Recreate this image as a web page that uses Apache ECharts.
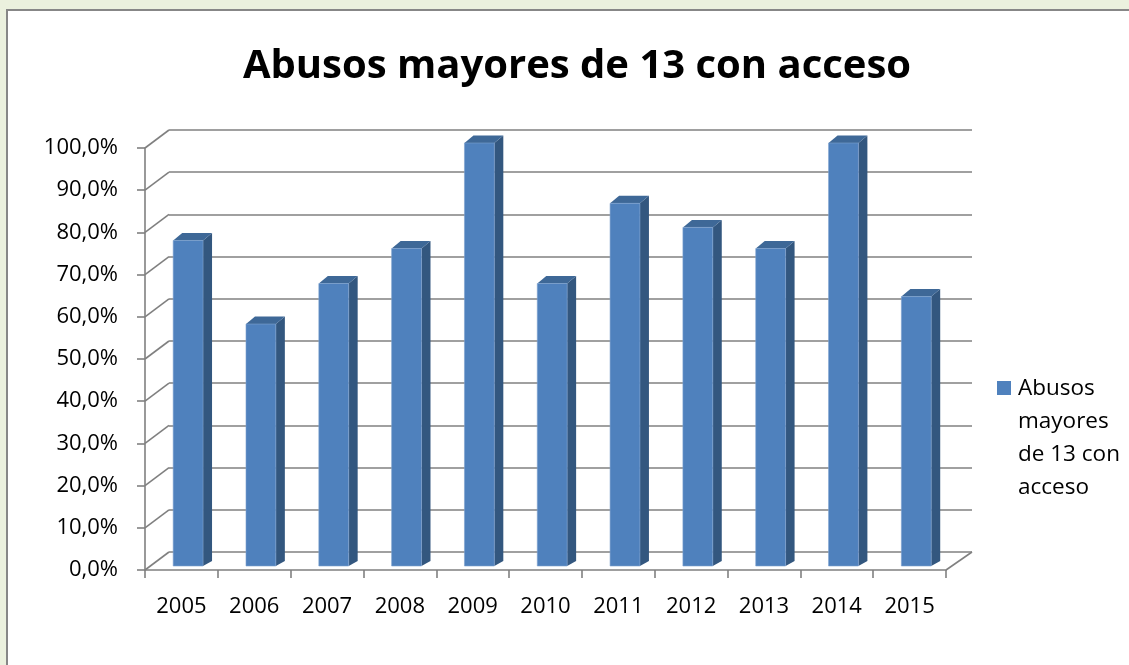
<!DOCTYPE html>
<html>
<head>
<meta charset="utf-8">
<script src="https://cdn.jsdelivr.net/npm/echarts@6/dist/echarts.min.js"></script>
<style>
  html, body { margin: 0; padding: 0; width: 1129px; height: 665px; overflow: hidden; background: #ebf1de; }
  #frame { position: absolute; left: 6px; top: 9px; width: 1200px; height: 700px; border: 2px solid #878787; background: #ffffff; }
  #chart { position: absolute; left: 0; top: 0; width: 1129px; height: 665px; }
</style>
</head>
<body>
<div id="frame"></div>
<div id="chart"></div>
<script>
// ---- data ----
const chartTitle = 'Abusos mayores de 13 con acceso';
const seriesName = 'Abusos mayores de 13 con acceso';
const legendLabel = 'Abusos\nmayores\nde 13 con\nacceso';
const categories = ['2005', '2006', '2007', '2008', '2009', '2010', '2011', '2012', '2013', '2014', '2015'];
const values = [0.769, 0.571, 0.667, 0.75, 1.0, 0.667, 0.857, 0.8, 0.75, 1.0, 0.636];
const yTicks = [0, 0.1, 0.2, 0.3, 0.4, 0.5, 0.6, 0.7, 0.8, 0.9, 1.0];

// ---- styling constants ----
const FONT = '"Open Sans", "Noto Sans", sans-serif';
const GRID_COLOR = '#808080';
const WALL_DX = 24, WALL_DY = -18;
const FRONT = '#4f81bd', SIDE = '#33577f', TOP = '#3e6897';

const chart = echarts.init(document.getElementById('chart'), null, { renderer: 'canvas' });

const pctFmt = v => (v * 100).toFixed(1).replace('.', ',') + '%';

const option = {
  backgroundColor: 'transparent',
  animation: false,
  title: {
    text: chartTitle,
    left: 572, top: 42, textAlign: 'center',
    textStyle: { fontFamily: FONT, fontWeight: 'bold', fontSize: 40, color: '#000' }
  },
  legend: {
    data: [seriesName],
    left: 997, top: 372, padding: 0,
    itemWidth: 14, itemHeight: 132,
    icon: 'path://M0,0 L0.05,0 L0,0.05 Z M0,9 H14 V23 H0 Z M0,131.95 L0.05,132 L0,132 Z',
    formatter: () => legendLabel,
    textStyle: { fontFamily: FONT, fontSize: 22.5, color: '#000', lineHeight: 33, padding: [0, 0, 0, 2] }
  },
  grid: [
    { left: 145, top: 148, width: 801, height: 422 },
    { left: 145 + WALL_DX, top: 148 + WALL_DY, width: 803, height: 422 }
  ],
  xAxis: [
    {
      type: 'category', gridIndex: 0, data: categories,
      axisLine: { show: true, lineStyle: { color: GRID_COLOR, width: 1.6 } },
      axisTick: { show: true, length: 8, alignWithLabel: false, lineStyle: { color: GRID_COLOR, width: 1.6 } },
      axisLabel: { fontFamily: FONT, fontSize: 22, color: '#000', margin: 26 },
      splitLine: { show: false }
    },
    {
      type: 'category', gridIndex: 1, data: categories, show: false
    }
  ],
  yAxis: [
    {
      type: 'value', gridIndex: 0, min: 0, max: 1, interval: 0.1,
      axisLine: { show: true, lineStyle: { color: GRID_COLOR, width: 1.6 } },
      axisTick: { show: true, length: 8, lineStyle: { color: GRID_COLOR, width: 1.6 } },
      axisLabel: { fontFamily: FONT, fontSize: 22, color: '#000', margin: 27, formatter: pctFmt },
      splitLine: { show: false }
    },
    {
      type: 'value', gridIndex: 1, min: 0, max: 1, interval: 0.1,
      axisLine: { show: false }, axisTick: { show: false }, axisLabel: { show: false },
      splitLine: { show: true, lineStyle: { color: GRID_COLOR, width: 1.6 } }
    }
  ],
  series: [
    {
      // left wall diagonals and floor right edge
      type: 'custom', xAxisIndex: 0, yAxisIndex: 0, silent: true,
      data: yTicks.map(v => [0, v]),
      renderItem: function (params, api) {
        const cs = params.coordSys;
        const y = api.coord([0, api.value(1)])[1];
        const children = [{
          type: 'line',
          shape: { x1: cs.x, y1: y, x2: cs.x + WALL_DX, y2: y + WALL_DY },
          style: { stroke: GRID_COLOR, lineWidth: 1.6 }
        }];
        if (api.value(1) === 0) {
          children.push({
            type: 'line',
            shape: { x1: cs.x + cs.width, y1: y, x2: cs.x + cs.width + WALL_DX + 2, y2: y + WALL_DY },
            style: { stroke: GRID_COLOR, lineWidth: 1.6 }
          });
        }
        return { type: 'group', children: children };
      },
      z: 1
    },
    {
      name: seriesName,
      type: 'custom', xAxisIndex: 0, yAxisIndex: 0,
      itemStyle: { color: FRONT },
      data: values.map((v, i) => [i, v]),
      renderItem: function (params, api) {
        const i = api.value(0), v = api.value(1);
        const topPt = api.coord([i, v]);
        const basePt = api.coord([i, 0]);
        const cw = api.size([1, 0])[0];
        const w = cw * 0.41;
        const cx = topPt[0] + 6.7;
        const x0 = cx - w / 2, x1 = cx + w / 2;
        const yt = topPt[1] - 5, yb = basePt[1] - 4;
        const dx = 9, dyT = -7.5, dyB = -5;
        return {
          type: 'group',
          children: [
            { type: 'polygon', shape: { points: [[x1, yt], [x1 + dx, yt + dyT], [x1 + dx, yb + dyB], [x1, yb]] },
              style: { fill: SIDE } },
            { type: 'polygon', shape: { points: [[x0, yt], [x0 + dx, yt + dyT], [x1 + dx, yt + dyT], [x1, yt]] },
              style: { fill: TOP } },
            { type: 'rect', shape: { x: x0, y: yt, width: x1 - x0, height: yb - yt },
              style: { fill: FRONT, stroke: '#7ea1cf', lineWidth: 0.6 } }
          ]
        };
      },
      z: 3
    }
  ]
};

chart.setOption(option);
</script>
</body>
</html>
